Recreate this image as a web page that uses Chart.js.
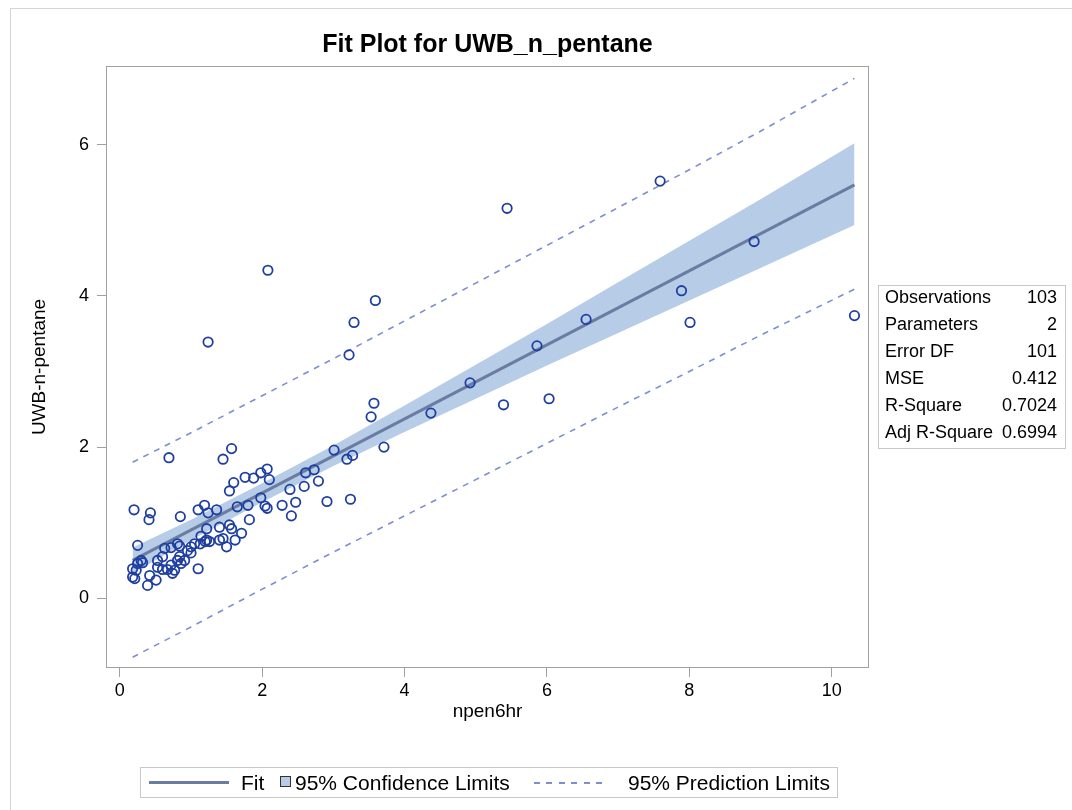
<!DOCTYPE html>
<html>
<head>
<meta charset="utf-8">
<title>Fit Plot for UWB_n_pentane</title>
<script src="https://cdn.jsdelivr.net/npm/chart.js@4.4.1/dist/chart.umd.min.js"></script>
<style>
  body { margin: 0; background: #fff; }
  #page { position: relative; width: 1072px; height: 810px; overflow: hidden; font-family: "Liberation Sans", Arial, sans-serif; color: #000; }
  #edge { position: absolute; left: 10px; top: 8px; width: 1200px; height: 900px; border-left: 1px solid #d4d4d4; border-top: 1px solid #d4d4d4; }
  #chart { position: absolute; left: 0; top: 0; }
  #stats { position: absolute; left: 878px; top: 285px; width: 188px; height: 164px; border: 1px solid #c8c8c8; box-sizing: border-box; font-size: 18px; }
  #stats table { position: relative; top: -2px; width: 100%; border-collapse: collapse; }
  #stats td { height: 27px; line-height: 27px; padding: 0; white-space: nowrap; }
  #stats td.lab { padding-left: 6px; text-align: left; }
  #stats td.val { padding-right: 8px; text-align: right; }
  #legend { position: absolute; left: 140px; top: 767px; width: 698px; height: 31px; border: 1px solid #c8c8c8; box-sizing: border-box; font-size: 21px; }
  #legend span, #legend i { position: absolute; display: block; }
  #legend span { top: 0; line-height: 29px; white-space: nowrap; }
  .fitKey { left: 8px; top: 13px; width: 80px; height: 3px; background: #6b7ca2; }
  .clKey { left: 139px; top: 8px; width: 11px; height: 11px; background: #b7cce6; border: 1px solid #333; box-sizing: border-box; }
  .plKey { left: 393px; top: 14px; width: 75px; height: 2px; background: repeating-linear-gradient(90deg, #7d8fcf 0 6px, transparent 6px 12.5px); }
</style>
</head>
<body>
<div id="page">
  <div id="edge"></div>
  <canvas id="chart" width="1072" height="810"></canvas>
  <div id="stats"><table id="statsTable"></table></div>
  <div id="legend">
    <i class="fitKey"></i><span style="left:100px">Fit</span>
    <i class="clKey"></i><span style="left:154px">95% Confidence Limits</span>
    <i class="plKey"></i><span style="left:487px">95% Prediction Limits</span>
  </div>
</div>
<script>
// axis setup
const xTickValues = [0, 2, 4, 6, 8, 10]
const yTickValues = [0, 2, 4, 6]
const xRange = [-0.18, 10.51]
const yRange = [-0.91, 7.03]

// observations (npen6hr, UWB-n-pentane)
const obsX = [
  2.08, 3.59, 3.29, 3.22, 3.57, 3.53, 1.57, 1.45, 3.01, 3.71, 3.19, 3.27,
  1.60, 1.76, 1.88, 1.98, 2.07, 2.10, 2.73, 2.61, 2.39, 2.59, 2.79, 1.98,
  2.47, 2.28, 2.91, 3.24, 2.41, 2.04, 2.07, 1.65, 1.80, 1.82, 1.54, 0.69,
  0.20, 0.43, 0.41, 0.85, 0.25,
  5.44, 7.59, 8.91, 7.89, 8.01, 10.32, 6.55, 5.86, 4.92, 4.37, 5.39, 6.03, 1.24,
  1.10, 1.19, 1.24, 1.36,
  1.14, 1.20, 1.13, 1.05, 1.00, 0.81, 0.84, 0.72, 0.63, 0.95, 1.00, 0.60,
  0.53, 0.84, 0.81, 0.91, 0.86, 1.10, 0.72, 0.67, 0.77, 0.74, 0.60, 0.53,
  0.25, 0.30, 0.32, 0.18, 0.23, 0.18, 0.21, 0.42, 0.39, 0.51, 1.22, 1.22,
  1.40, 1.54, 1.57, 1.71, 1.40, 1.45, 1.62, 1.50, 1.26
]
const obsY = [
  4.34, 3.94, 3.65, 3.22, 2.58, 2.40, 1.98, 1.84, 1.96, 2.00, 1.84, 1.89,
  1.53, 1.60, 1.59, 1.66, 1.71, 1.57, 1.70, 1.66, 1.44, 1.48, 1.55, 1.33,
  1.27, 1.23, 1.28, 1.31, 1.09, 1.22, 1.19, 1.21, 1.23, 1.04, 1.42, 1.86,
  1.17, 1.13, 1.04, 1.08, 0.70,
  5.16, 5.52, 4.72, 4.07, 3.65, 3.74, 3.69, 3.34, 2.85, 2.45, 2.56, 2.64, 3.39,
  1.17, 1.23, 1.13, 1.17,
  0.82, 0.75, 0.72, 0.72, 0.68, 0.72, 0.69, 0.67, 0.66, 0.63, 0.60, 0.55,
  0.50, 0.55, 0.50, 0.50, 0.46, 0.39, 0.44, 0.38, 0.37, 0.33, 0.38, 0.41,
  0.46, 0.50, 0.47, 0.39, 0.37, 0.28, 0.26, 0.30, 0.17, 0.24, 0.92, 0.77,
  0.94, 0.97, 0.92, 0.86, 0.77, 0.79, 0.77, 0.68, 0.75
]

// fit line and limits, read at a few x positions
const fitX = [0.18, 10.32]
const fitY = [0.50, 5.47]
const bandX = [0.18, 1, 2, 3, 4, 5, 6, 7, 8, 9, 10.32]
const clLower = [0.33, 0.77, 1.27, 1.75, 2.20, 2.64, 3.08, 3.51, 3.94, 4.37, 4.94]
const clUpper = [0.67, 1.04, 1.52, 2.02, 2.55, 3.09, 3.63, 4.18, 4.73, 5.28, 6.02]
const plLower = [-0.78, -0.38, 0.12, 0.61, 1.09, 1.57, 2.05, 2.53, 3.00, 3.48, 4.09]
const plUpper = [1.80, 2.19, 2.68, 3.17, 3.67, 4.17, 4.67, 5.17, 5.67, 6.18, 6.88]

const statLabels = ['Observations', 'Parameters', 'Error DF', 'MSE', 'R-Square', 'Adj R-Square']
const statValues = ['103', '2', '101', '0.412', '0.7024', '0.6994']

function Pairs(xs, ys) {
    return xs.map((x, i) => ({ x: x, y: ys[i] }))
}

function FillStats() {
    let rows = ''
    for (let i = 0; i < statLabels.length; i++) {
        rows += '<tr><td class="lab">' + statLabels[i] + '</td><td class="val">' + statValues[i] + '</td></tr>'
    }
    document.getElementById('statsTable').innerHTML = rows
}

// box round the plot area
const framePlugin = {
    id: 'frame',
    afterDatasetsDraw(chart) {
        let { ctx, chartArea } = chart
        ctx.save()
        ctx.strokeStyle = '#a0a0a0'
        ctx.lineWidth = 1
        ctx.strokeRect(chartArea.left - 0.5, chartArea.top - 0.5,
            chartArea.right - chartArea.left + 1, chartArea.bottom - chartArea.top + 1)
        ctx.restore()
    }
}

function DrawChart() {
    Chart.defaults.font.family = '"Liberation Sans", Arial, sans-serif'
    Chart.defaults.color = '#000'
    let lineBase = { showLine: true, pointRadius: 0, tension: 0, fill: false }
    new Chart(document.getElementById('chart'), {
        type: 'scatter',
        data: {
            datasets: [
                {
                    label: 'UWB-n-pentane',
                    data: Pairs(obsX, obsY),
                    pointRadius: 4.7,
                    pointBorderWidth: 1.8,
                    borderColor: '#1f3fa0',
                    backgroundColor: 'rgba(0,0,0,0)'
                },
                { ...lineBase, label: 'Fit', data: Pairs(fitX, fitY), borderColor: '#6b7ca2', borderWidth: 3 },
                { ...lineBase, label: 'Upper PL', data: Pairs(bandX, plUpper), borderColor: '#7d8fcf', borderWidth: 1.6, borderDash: [6, 6] },
                { ...lineBase, label: 'Lower PL', data: Pairs(bandX, plLower), borderColor: '#7d8fcf', borderWidth: 1.6, borderDash: [6, 6] },
                { ...lineBase, label: 'Lower CL', data: Pairs(bandX, clLower), borderColor: 'rgba(0,0,0,0)', borderWidth: 0 },
                { ...lineBase, label: 'Upper CL', data: Pairs(bandX, clUpper), borderColor: 'rgba(0,0,0,0)', borderWidth: 0, fill: '-1', backgroundColor: '#b7cce6' }
            ]
        },
        options: {
            responsive: false,
            animation: false,
            devicePixelRatio: 1,
            events: [],
            layout: { padding: { left: 0, top: 0, right: 204, bottom: 0 } },
            scales: {
                x: {
                    type: 'linear',
                    min: xRange[0],
                    max: xRange[1],
                    afterBuildTicks: s => { s.ticks = xTickValues.map(v => ({ value: v })) },
                    afterFit: s => { s.height = 143 },
                    ticks: { font: { size: 18 }, padding: 3, color: '#000' },
                    grid: { drawOnChartArea: false, drawTicks: true, tickLength: 10, color: '#a0a0a0' },
                    border: { display: false },
                    title: { display: true, text: 'npen6hr', font: { size: 19 }, padding: { top: 0, bottom: 87 }, color: '#000' }
                },
                y: {
                    type: 'linear',
                    min: yRange[0],
                    max: yRange[1],
                    afterBuildTicks: s => { s.ticks = yTickValues.map(v => ({ value: v })) },
                    afterFit: s => { s.width = 107 },
                    ticks: { font: { size: 18 }, padding: 8, color: '#000' },
                    grid: { drawOnChartArea: false, drawTicks: true, tickLength: 10, color: '#a0a0a0' },
                    border: { display: false },
                    title: { display: true, text: 'UWB-n-pentane', font: { size: 19 }, padding: { top: 28, bottom: 0 }, color: '#000' }
                }
            },
            plugins: {
                legend: { display: false },
                tooltip: { enabled: false },
                title: {
                    display: true,
                    fullSize: false,
                    text: 'Fit Plot for UWB_n_pentane',
                    font: { size: 25, weight: 'bold' },
                    padding: { top: 30, bottom: 7 },
                    color: '#000'
                }
            }
        },
        plugins: [framePlugin]
    })
}

FillStats()
DrawChart()
</script>
</body>
</html>
